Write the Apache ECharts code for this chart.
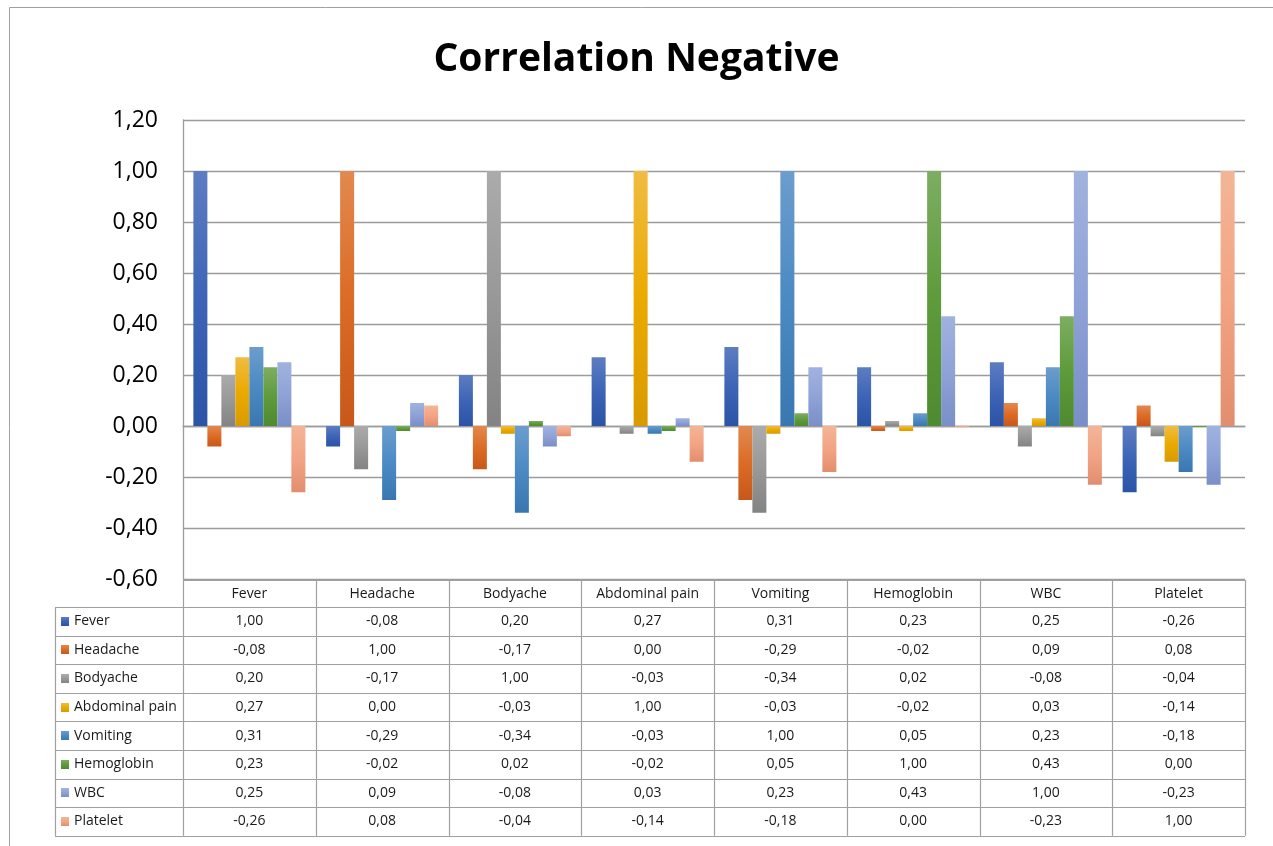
<!DOCTYPE html>
<html>
<head>
<meta charset="utf-8">
<script src="https://cdn.jsdelivr.net/npm/echarts@6/dist/echarts.min.js"></script>
<style>
html,body{margin:0;padding:0;background:#fff;}
#c{width:1273px;height:846px;}
</style>
</head>
<body>
<div id="c"></div>
<script>
// ---- data ----
const categories = ['Fever','Headache','Bodyache','Abdominal pain','Vomiting','Hemoglobin','WBC','Platelet'];
const seriesNames = ['Fever','Headache','Bodyache','Abdominal pain','Vomiting','Hemoglobin','WBC','Platelet'];
const fever      = [1.00, -0.08, 0.20, 0.27, 0.31, 0.23, 0.25, -0.26];
const headache   = [-0.08, 1.00, -0.17, 0.00, -0.29, -0.02, 0.09, 0.08];
const bodyache   = [0.20, -0.17, 1.00, -0.03, -0.34, 0.02, -0.08, -0.04];
const abdominal  = [0.27, 0.00, -0.03, 1.00, -0.03, -0.02, 0.03, -0.14];
const vomiting   = [0.31, -0.29, -0.34, -0.03, 1.00, 0.05, 0.23, -0.18];
const hemoglobin = [0.23, -0.02, 0.02, -0.02, 0.05, 1.00, 0.43, -0.004];
const wbc        = [0.25, 0.09, -0.08, 0.03, 0.23, 0.43, 1.00, -0.23];
const platelet   = [-0.26, 0.08, -0.04, -0.14, -0.18, -0.004, -0.23, 1.00];
const yTicks = {min: -0.6, max: 1.2, interval: 0.2};
const titleText = 'Correlation Negative';

const seriesData = [fever, headache, bodyache, abdominal, vomiting, hemoglobin, wbc, platelet];
// gradient colours [top, mid, bottom]
const palette = [
  ['#5d7dc2','#3d64b6','#2b54a6'],
  ['#e2894f','#dc6b26','#c8581a'],
  ['#ababab','#989898','#838383'],
  ['#f0bc42','#ebaa00','#d99a00'],
  ['#6c9dcd','#4b8ac4','#3a77b0'],
  ['#7dad62','#5e9b3b','#4e8a2f'],
  ['#a0b2de','#8fa3d8','#7a8ec8'],
  ['#f3b597','#f2a484','#e28e6e']
];

function fmt(v){
  if (Math.abs(v) < 0.005) return '0,00';
  return v.toFixed(2).replace('.', ',');
}
function grad(c){
  return new echarts.graphic.LinearGradient(0,0,0,1,[
    {offset:0,color:c[0]},{offset:0.5,color:c[1]},{offset:1,color:c[2]}]);
}

const FONT = '"Open Sans", "DejaVu Sans", sans-serif';
const chart = echarts.init(document.getElementById('c'), null, {renderer:'canvas'});

const option = {
  animation: false,
  backgroundColor: '#fff',
  title: {
    text: titleText, left: 'center', top: 35,
    textStyle: {fontFamily: FONT, fontWeight: 'bold', fontSize: 39, color: '#000'}
  },
  grid: {left: 183, right: 28, top: 120, bottom: 267, containLabel: false},
  xAxis: {
    type: 'category', data: categories,
    axisLine: {show: true, onZero: true, lineStyle: {color: '#9c9c9c', width: 1.3}},
    axisTick: {show: false},
    axisLabel: {show: false},
    splitLine: {show: false}
  },
  yAxis: {
    type: 'value', min: yTicks.min, max: yTicks.max, interval: yTicks.interval,
    axisLine: {show: true, lineStyle: {color: '#9c9c9c', width: 1.3}},
    axisTick: {show: false},
    splitLine: {show: true, lineStyle: {color: '#9c9c9c', width: 1.3}},
    axisLabel: {
      margin: 25, fontFamily: FONT, fontSize: 23, color: '#000',
      formatter: function(v){ return fmt(Math.round(v*100)/100); }
    }
  },
  series: seriesNames.map(function(n, i){
    return {
      name: n, type: 'bar', data: seriesData[i],
      barWidth: 14, barGap: '0%',
      itemStyle: {color: grad(palette[i])}
    };
  })
};
chart.setOption(option);

// ---- data table below the plot ----
const gLeft = 183, gRight = 1245, nCat = categories.length;
const catW = (gRight - gLeft) / nCat;
const hdrTop = 580, hdrBot = 607, rowH = 28.6, tblLeft = 55;
const tblBot = hdrBot + rowH * seriesNames.length;
const lineStyle = {stroke: '#a0a0a0', lineWidth: 1.2};
const els = [];
function hline(x1, x2, y){ els.push({type:'line', silent:true, shape:{x1:x1,y1:Math.round(y)+0.5,x2:x2,y2:Math.round(y)+0.5}, style:lineStyle}); }
function vline(x, y1, y2){ els.push({type:'line', silent:true, shape:{x1:Math.round(x)+0.5,y1:y1,x2:Math.round(x)+0.5,y2:y2}, style:lineStyle}); }

// outer frame
els.push({type:'rect', silent:true, shape:{x:9.5, y:7.5, width:1400, height:1000}, style:{fill:'none', stroke:'#a0a0a0', lineWidth:1}});

hline(gLeft, gRight, hdrTop);
hline(tblLeft, gRight, hdrBot);
for (let r = 1; r <= seriesNames.length; r++) hline(tblLeft, gRight, hdrBot + rowH * r);
vline(tblLeft, hdrBot, tblBot);
for (let c = 0; c <= nCat; c++) {
  const x = chart.convertToPixel({xAxisIndex:0}, c) - catW/2;
  vline(c === nCat ? gRight : x, hdrTop, tblBot);
}
const txtStyle = {fontFamily: FONT, fontSize: 14, fill: '#1a1a1a'};
categories.forEach(function(cat, c){
  const cx = chart.convertToPixel({xAxisIndex:0}, c);
  els.push({type:'text', silent:true, x: cx, y: (hdrTop+hdrBot)/2 + 1,
    style: Object.assign({text: cat, align:'center', verticalAlign:'middle'}, txtStyle)});
});
seriesNames.forEach(function(n, r){
  const cy = hdrBot + rowH * r + rowH/2;
  els.push({type:'rect', silent:true, shape:{x:61, y:Math.round(cy-4.5), width:8, height:9}, style:{fill: grad(palette[r])}});
  els.push({type:'text', silent:true, x: 74, y: cy,
    style: Object.assign({text: n, align:'left', verticalAlign:'middle'}, txtStyle)});
  seriesData[r].forEach(function(v, c){
    const cx = chart.convertToPixel({xAxisIndex:0}, c);
    els.push({type:'text', silent:true, x: cx, y: cy,
      style: Object.assign({text: fmt(v), align:'center', verticalAlign:'middle'}, txtStyle)});
  });
});
chart.setOption({graphic: {elements: els}});
</script>
</body>
</html>
